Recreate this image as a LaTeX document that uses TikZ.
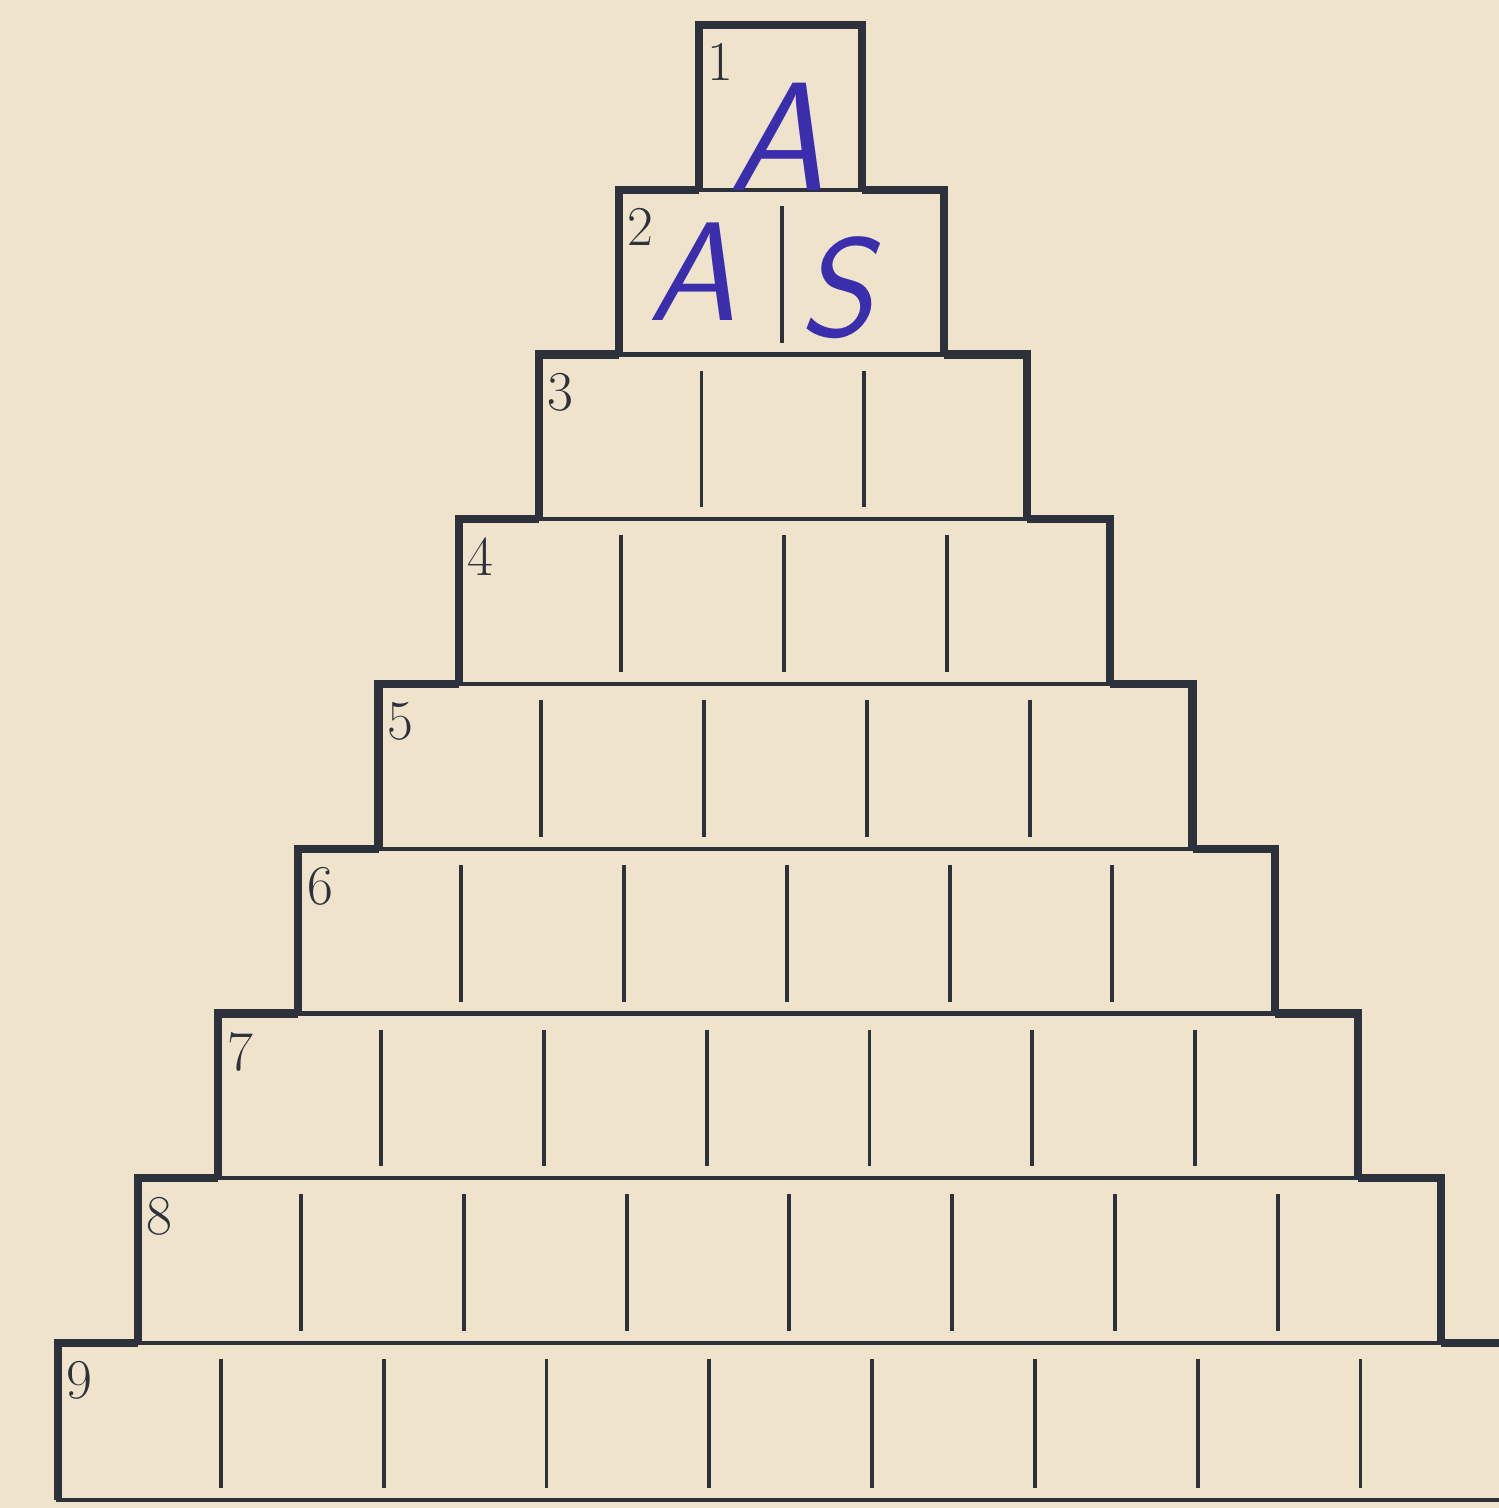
\documentclass[tikz,border=0pt]{standalone}
\usepackage{fontspec}
\usepackage{tikz}
\usetikzlibrary{calc,positioning}
\definecolor{paper}{RGB}{240,227,204}
\definecolor{ink}{RGB}{44,49,60}
\definecolor{pen}{RGB}{58,46,172}
\def\cellw{162.8}
\def\rowh{164.75}
\begin{document}
\begin{tikzpicture}[
        x=0.01cm, y=-0.01cm,
        every node/.style={inner sep=0pt},
        rowline/.style={ink,line width=1.2pt},
        outline/.style={ink,line width=2.3pt,line cap=square,line join=miter},
        divider/.style={ink,line width=1.1pt},
        rownum/.style={ink,anchor=north west,font=\fontsize{16}{16}\selectfont},
        hand/.style={pen,font=\sffamily\itshape\fontsize{#1}{#1}\selectfont},
        hand/.default=40
      ]

        % Paper ---------------------------------------------------
        \fill[paper] (0,0) rectangle (1499,1508);
        \useasboundingbox (0,0) rectangle (1499,1508);

        % Rows of the pyramid -------------------------------------
        \foreach \k in {1,...,9} {
          \pgfmathsetmacro{\L}{779+1.3*\k-\k*\cellw/2}
          \pgfmathsetmacro{\R}{\L+\k*\cellw}
          \pgfmathsetmacro{\Lp}{779+1.3*(\k-1)-(\k-1)*\cellw/2}
          \pgfmathsetmacro{\Rp}{\Lp+(\k-1)*\cellw}
          \pgfmathsetmacro{\T}{25+(\k-1)*\rowh}
          \pgfmathsetmacro{\B}{min(\T+\rowh,1500)}

          \draw[rowline] (\L,\T) rectangle (\R,\B);

          % cell dividers
          \ifnum\k>1
            \foreach \j in {2,...,\k} {
              \draw[divider] (\L+\j*\cellw-\cellw,\T+16) -- (\L+\j*\cellw-\cellw,\B-12);
            }
            \draw[outline] (\Lp,\T) -- (\L,\T) -- (\L,\B);
            \draw[outline] (\Rp,\T) -- (\R,\T) -- (\R,\B);
          \else
            \draw[outline] (\L,\B) -- (\L,\T) -- (\R,\T) -- (\R,\B);
          \fi

          % row number
          \node[rownum] (num\k) at (\L+8,\T+18) {\k};
        }

        % Handwritten letters -------------------------------------
        \node[hand=44] (hA1) at (777,137) {A};
        \node[hand=40] (hA2) at (692,272) {A};
        \node[hand=40] (hS2) at (836,288) {S};

      \end{tikzpicture}
\end{document}
